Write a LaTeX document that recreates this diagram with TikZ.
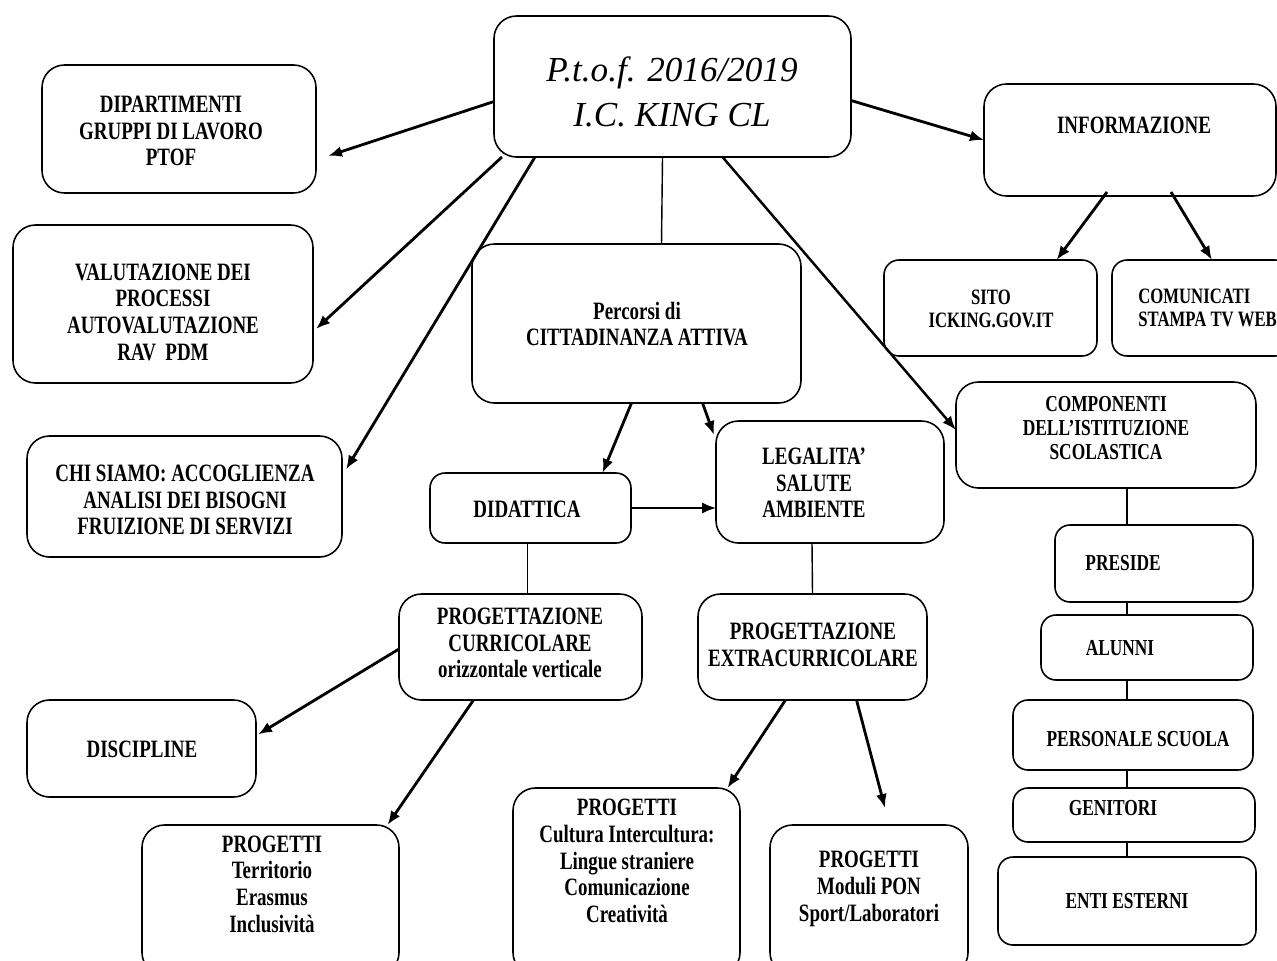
\documentclass[tikz,border=0pt]{standalone}
\usepackage{fontspec}
\setmainfont{Liberation Serif}[FakeStretch=0.76]
\newfontfamily\titlefont{Liberation Serif}
\usetikzlibrary{arrows.meta,calc}
\newcommand\bx[6][]{\node[bx,#1,minimum width={(#5-#3)*0.02cm},minimum height={(#6-#4)*0.02cm}] (#2) at ({(#3+#5)/2},{(#4+#6)/2}) {};}
\begin{document}
\begin{tikzpicture}[x=0.02cm,y=-0.02cm,
  bx/.style={draw,rounded corners=0.45cm,line width=0.9pt,inner sep=0pt,outer sep=0pt},
  sm/.style={rounded corners=0.3cm},
  tx/.style={align=center,font=\fontsize{14.2}{15.2}\selectfont\bfseries,inner sep=0pt},
  txs/.style={align=center,font=\fontsize{13}{13.4}\selectfont\bfseries,inner sep=0pt},
  txm/.style={align=center,font=\fontsize{12.5}{13.4}\selectfont\bfseries,inner sep=0pt},
  arr/.style={-{Latex[length=0.28cm,width=0.22cm]},line width=1.6pt},
  ln/.style={line width=0.8pt}]
\useasboundingbox (0,0) rectangle (1277,960);
\clip (0,0) rectangle (1277,960);
% boxes
\bx{title}{494}{16}{851}{157}
\bx{dip}{42}{65}{316}{193}
\bx{val}{13}{225}{313}{383}
\bx{chi}{27}{436}{342}{557}
\bx{perc}{472}{244}{801}{403}
\bx{info}{984}{84}{1276}{196}
\bx[sm]{sito}{884}{260}{1097}{356}
\bx[sm]{com}{1112}{260}{1290}{356}
\bx{comp}{956}{382}{1256}{488}
\bx[sm]{pres}{1055}{525}{1253}{602}
\bx[sm]{alun}{1041}{615}{1253}{680}
\bx[sm]{pers}{1013}{700}{1253}{770}
\bx[sm]{gen}{1013}{788}{1255}{842}
\bx[sm]{enti}{998}{857}{1256}{945}
\bx[sm]{did}{430}{473}{631}{543}
\bx{leg}{716}{421}{944}{543}
\bx{pc}{399}{594}{642}{700}
\bx{pe}{698}{594}{927}{700}
\bx{disc}{27}{700}{256}{797}
\bx{pt}{142}{825}{399}{975}
\bx{pcult}{513}{788}{740}{975}
\bx{ppon}{770}{825}{968}{975}
% texts
\node[align=center,inner sep=0pt,font={\titlefont\fontsize{20}{25.5}\selectfont\itshape}] (title-t) at (672,92) {P.t.o.f. 2016/2019\\I.C. KING CL};
\node[tx] (dip-t) at (171,131) {DIPARTIMENTI\\GRUPPI DI LAVORO\\PTOF};
\node[tx] (val-t) at (163,312) {VALUTAZIONE DEI\\PROCESSI\\AUTOVALUTAZIONE\\RAV\ \ PDM};
\node[tx] (chi-t) at (185,500) {CHI SIAMO: ACCOGLIENZA\\ANALISI DEI BISOGNI\\FRUIZIONE DI SERVIZI};
\node[tx] (perc-t) at (637,324) {Percorsi di\\CITTADINANZA ATTIVA};
\node[tx] (info-t) at (1134,125) {INFORMAZIONE};
\node[txm] (sito-t) at (991,309) {SITO\\ICKING.GOV.IT};
\node[txm,align=left,anchor=west] (com-t) at (1138,308) {COMUNICATI\\STAMPA TV WEB};
\node[txs] (comp-t) at (1106,428) {COMPONENTI\\DELL'ISTITUZIONE\\SCOLASTICA};
\node[txs] (pres-t) at (1123,563) {PRESIDE};
\node[txs] (alun-t) at (1120,648) {ALUNNI};
\node[txs] (pers-t) at (1138,739) {PERSONALE SCUOLA};
\node[txs] (gen-t) at (1113,808) {GENITORI};
\node[txs] (enti-t) at (1127,901) {ENTI ESTERNI};
\node[tx] (did-t) at (527,509) {DIDATTICA};
\node[tx] (leg-t) at (814,483) {LEGALITA'\\SALUTE\\AMBIENTE};
\node[tx] (pc-t) at (520,643) {PROGETTAZIONE\\CURRICOLARE\\orizzontale verticale};
\node[tx] (pe-t) at (813,645) {PROGETTAZIONE\\EXTRACURRICOLARE};
\node[tx] (disc-t) at (142,749) {DISCIPLINE};
\node[tx] (pt-t) at (272,884) {PROGETTI\\Territorio\\Erasmus\\Inclusività};
\node[tx] (pcult-t) at (627,861) {PROGETTI\\Cultura Intercultura:\\Lingue straniere\\Comunicazione\\Creatività};
\node[tx] (ppon-t) at (869,889) {PROGETTI\\Moduli PON\\Sport/Laboratori};
% connectors
\draw[arr] ($(title.west)+(0,15)$) -- ($(dip.east)+(12,27)$);
\draw[arr] ($(title.south west)+(8,0)$) -- ($(val.east)+(3,25)$);
\draw[arr] ($(title.south west)+(41,0)$) -- ($(chi.east)+(4,-27)$);
\draw[ln] ($(title.south)+(-10,0)$) -- ($(perc.north)+(25,0)$);
\draw[arr,line width=1.4pt] ($(title.south)+(50,0)$) -- ($(comp.west)+(0,-5)$);
\draw[arr] ($(title.east)+(0,14)$) -- (info.west);
\draw[arr] ($(info.south)+(-23,-4)$) -- ($(sito.north)+(66,0)$);
\draw[arr] ($(info.south)+(41,-4)$) -- ($(com.north)+(11,0)$);
\draw[arr] ($(perc.south)+(-5,0)$) -- ($(did.north)+(72,0)$);
\draw[arr] ($(perc.south)+(66,0)$) -- ($(leg.west)+(-2,-47)$);
\draw[arr,line width=0.8pt] (did.east) -- ($(leg.west)+(0,26)$);
\draw[ln] ($(did.south)+(-3,0)$) -- ($(pc.north)+(7,0)$);
\draw[ln] ($(leg.south)+(-18,0)$) -- (pe.north);
\draw[arr] ($(pc.west)+(0,2)$) -- ($(disc.east)+(2,-14)$);
\draw[arr] ($(pc.south)+(-47,0)$) -- ($(pt.north)+(117,0)$);
\draw[arr] ($(pe.south)+(-27,0)$) -- ($(pcult.north)+(101,0)$);
\draw[arr] ($(pe.south)+(44,0)$) -- ($(ppon.north)+(16,-17)$);
\draw[ln] ($(comp.south)+(21,0)$) -- ($(pres.north)+(-27,0)$);
\draw[ln] ($(pres.south)+(-27,0)$) -- ($(alun.north)+(-20,0)$);
\draw[ln] ($(alun.south)+(-20,0)$) -- ($(pers.north)+(-6,0)$);
\draw[ln] ($(pers.south)+(-6,0)$) -- ($(gen.north)+(-7,0)$);
\draw[ln] ($(gen.south)+(-7,0)$) -- (enti.north);
\end{tikzpicture}
\end{document}
